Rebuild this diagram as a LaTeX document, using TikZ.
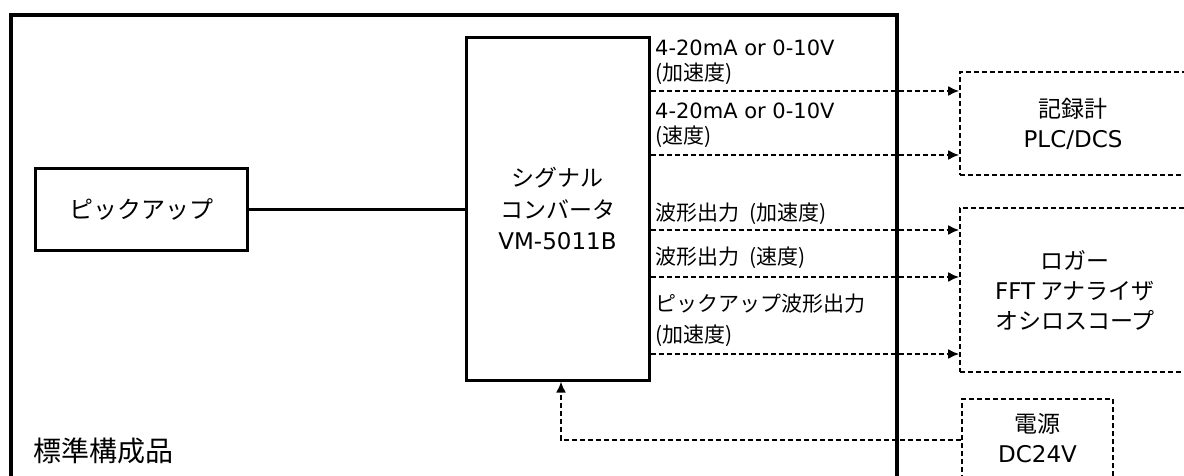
\documentclass[tikz,border=0pt]{standalone}
\usepackage{fontspec}
\setmainfont{Noto Sans CJK JP}
\newfontfamily\lat{DejaVu Sans}
\usetikzlibrary{arrows.meta}
\tikzset{
  solidbox/.style={draw, line width=3pt, inner sep=0pt, align=center,
    font=\fontsize{23}{31.5}\selectfont},
  dashbox/.style={draw, line width=1.6pt, dash pattern=on 5pt off 3pt,
    inner sep=0pt, align=center, font=\fontsize{23}{30}\selectfont},
  sigarrow/.style={line width=2.1pt, dash pattern=on 5pt off 3pt,
    -{Latex[length=11pt,width=10pt]}},
  lbl/.style={anchor=west, inner sep=0pt, align=left,
    font=\fontsize{21}{25}\selectfont},
  frame/.style={line width=4.4pt}
}
\newcommand{\gapsp}{\hspace{0.5em}}
\begin{document}
\begin{tikzpicture}[x=1pt,y=-1pt]
\useasboundingbox (0,0) rectangle (1184,476);
\fill[white] (0,0) rectangle (1184,476);

% standard configuration frame
\draw[frame] (11,500) -- (11,15) -- (897,15) -- (897,500);
\node[anchor=west, inner sep=0pt, font=\fontsize{28}{30}\selectfont] (std) at (33,451) {標準構成品};

% pickup and converter
\node[solidbox, minimum width=212pt, minimum height=81pt, font=\fontsize{24}{30}\selectfont] (pick) at (141,209.5) {ピックアップ};
\node[solidbox, minimum width=183pt, minimum height=342pt] (conv) at (557.5,209)
  {シグナル\\コンバータ\\{\lat VM-5011B}};
\draw[line width=2.4pt] (pick.east) -- (conv.west |- pick.east);

% external devices
\node[dashbox, minimum width=226pt, minimum height=103pt] (rec) at (1073,123.5)
  {記録計\\{\lat PLC/DCS}};
\node[dashbox, minimum width=230pt, minimum height=164pt] (log) at (1075,290)
  {ロガー\\{\lat FFT} アナライザ\\オシロスコープ};
\node[dashbox, minimum width=151pt, minimum height=78pt] (pwr) at (1037.5,438)
  {電源\\{\lat DC24V}};

% output signals
\coordinate (y1) at (0,91);
\coordinate (y2) at (0,155);
\coordinate (y3) at (0,230);
\coordinate (y4) at (0,277);
\coordinate (y5) at (0,354);
\draw[sigarrow] (conv.east |- y1) -- (rec.west |- y1);
\draw[sigarrow] (conv.east |- y2) -- (rec.west |- y2);
\draw[sigarrow] (conv.east |- y3) -- (log.west |- y3);
\draw[sigarrow] (conv.east |- y4) -- (log.west |- y4);
\draw[sigarrow] (conv.east |- y5) -- (log.west |- y5);

\node[lbl] (l1) at (655,62.5) {{\lat 4-20mA or 0-10V}\\(加速度)};
\node[lbl] (l2) at (655,125) {{\lat 4-20mA or 0-10V}\\(速度)};
\node[lbl] (l3) at (655,214) {波形出力\gapsp(加速度)};
\node[lbl] (l4) at (655,258) {波形出力\gapsp(速度)};
\node[lbl] (l5) at (655,320) {ピックアップ波形出力\\[6pt](加速度)};

% power supply
\draw[sigarrow] (pwr.west |- 0,440) -| ([xshift=3.5pt]conv.south);
\end{tikzpicture}
\end{document}
